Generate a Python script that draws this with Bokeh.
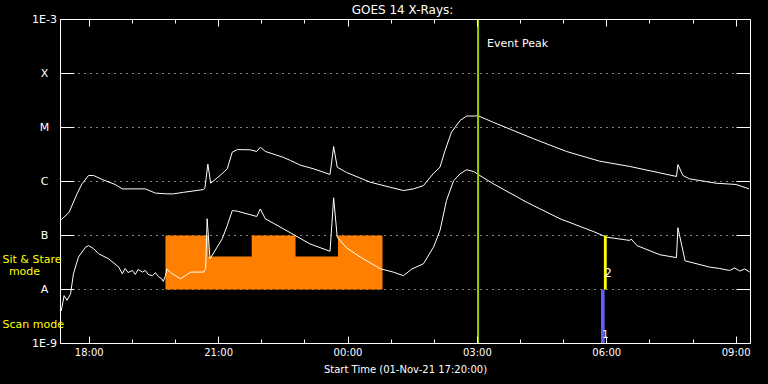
import pandas as pd
from bokeh.plotting import figure
from bokeh.core.properties import value
from bokeh.models import (ColumnDataSource, FixedTicker, DatetimeTickFormatter, DatetimeAxis,
                          LogAxis, Label, LabelSet, Span, Range1d, CustomJSTickFormatter)
from bokeh.embed import file_html
from bokeh.resources import INLINE

# ---------------- data ----------------
title_text = "GOES 14 X-Rays:"
x_title = "Start Time (01-Nov-21 17:20:00)"
t_start, t_end = "17:20", "09:20"

level_flux = [1e-9, 1e-8, 1e-7, 1e-6, 1e-5, 1e-4, 1e-3]
level_text = ["1E-9", "A", "B", "C", "M", "X", "1E-3"]

major_times = ["18:00", "21:00", "00:00", "03:00", "06:00", "09:00"]
minor_times = ["18:00", "19:00", "20:00", "21:00", "22:00", "23:00", "00:00", "01:00",
               "02:00", "03:00", "04:00", "05:00", "06:00", "07:00", "08:00", "09:00"]

# long channel (upper curve)
long_time = ["17:21", "17:32", "17:43", "17:50", "17:59", "18:06", "18:18", "18:36", "18:46",
             "19:18", "19:32", "19:48", "19:57", "20:11", "20:39", "20:41", "20:45", "20:49",
             "20:58", "21:02", "21:12", "21:19", "21:26", "21:44", "21:53", "21:58", "22:05",
             "22:30", "22:40", "22:54", "23:12", "23:35", "23:40", "23:45", "23:58", "00:31",
             "00:59", "01:17", "01:31", "01:45", "01:59", "02:08", "02:15", "02:24", "02:36",
             "02:45", "02:57", "03:01", "03:22", "04:18", "05:04", "05:50", "06:32", "07:37",
             "07:39", "07:46", "07:55", "08:32", "09:00", "09:18"]
long_flux = [1.95e-7, 2.7e-7, 5.9e-7, 9.1e-7, 1.29e-6, 1.29e-6, 1.09e-6, 8.8e-7, 7.3e-7,
             7.3e-7, 6.1e-7, 5.9e-7, 5.9e-7, 6.3e-7, 7.1e-7, 7.7e-7, 2.1e-6, 9.3e-7,
             1.17e-6, 1.29e-6, 1.72e-6, 3.5e-6, 3.9e-6, 3.86e-6, 3.6e-6, 4.3e-6, 3.6e-6,
             2.8e-6, 2.45e-6, 2.0e-6, 1.72e-6, 1.35e-6, 4.45e-6, 1.84e-6, 1.47e-6, 9.7e-7,
             7.8e-7, 6.8e-7, 7.3e-7, 8.4e-7, 1.42e-6, 1.84e-6, 3.75e-6, 8.2e-6, 1.35e-5,
             1.63e-5, 1.63e-5, 1.65e-5, 1.25e-5, 6.2e-6, 3.6e-6, 2.38e-6, 1.9e-6, 1.24e-6,
             2.06e-6, 1.29e-6, 1.12e-6, 9.3e-7, 8.8e-7, 7.3e-7]

# short channel (lower curve)
short_time = ["17:21", "17:25", "17:29", "17:34", "17:38", "17:45", "17:55", "17:59", "18:06",
              "18:13", "18:27", "18:41", "18:46", "18:50", "18:54", "19:00", "19:04", "19:08",
              "19:14", "19:18", "19:22", "19:28", "19:32", "19:36", "19:41", "19:43", "19:46",
              "19:48", "19:53", "20:07", "20:21", "20:39", "20:42", "20:44", "20:48", "20:58",
              "21:05", "21:12", "21:19", "21:26", "21:53", "21:58", "22:05", "22:30", "23:07",
              "23:35", "23:40", "23:45", "23:58", "00:17", "00:45", "01:03", "01:17", "01:29",
              "01:45", "01:59", "02:08", "02:17", "02:27", "02:36", "02:45", "02:55", "03:01",
              "03:22", "04:09", "04:55", "05:41", "06:00", "06:32", "06:34", "06:42", "07:14",
              "07:37", "07:39", "07:49", "08:23", "08:37", "08:51", "08:58", "09:05", "09:12",
              "09:19"]
short_flux = [4.0e-9, 7.7e-9, 6.3e-9, 8.3e-9, 1.95e-8, 4.0e-8, 6.1e-8, 6.5e-8, 5.7e-8,
              4.6e-8, 3.7e-8, 2.6e-8, 1.95e-8, 2.45e-8, 2.06e-8, 2.25e-8, 1.9e-8, 2.35e-8,
              2.1e-8, 2.25e-8, 1.9e-8, 1.8e-8, 2.06e-8, 1.74e-8, 1.58e-8, 1.41e-8, 1.8e-8,
              2.4e-8, 2.06e-8, 1.58e-8, 2.1e-8, 2.1e-8, 2.45e-8, 2.04e-7, 3.7e-8, 6.1e-8,
              8.7e-8, 1.53e-7, 2.9e-7, 2.82e-7, 2.25e-7, 3.1e-7, 2.04e-7, 1.33e-7, 7.0e-8,
              5.1e-8, 5.0e-7, 9.3e-8, 5.9e-8, 4.0e-8, 2.42e-8, 2.1e-8, 1.8e-8, 2.4e-8,
              3.0e-8, 6.1e-8, 1.24e-7, 4.45e-7, 1.04e-6, 1.39e-6, 1.65e-6, 1.53e-6, 1.35e-6,
              9.1e-7, 4.1e-7, 2.04e-7, 1.19e-7, 9.3e-8, 8.1e-8, 8.6e-8, 6.5e-8, 4.4e-8,
              3.9e-8, 1.39e-7, 3.4e-8, 2.6e-8, 2.45e-8, 2.25e-8, 2.5e-8, 2.2e-8, 2.4e-8,
              2.1e-8]

# observing mode (orange steps)
mode_start = ["19:46", "20:46", "21:46", "22:47", "23:46"]
mode_end = ["20:46", "21:46", "22:47", "23:46", "00:48"]
mode_top = [1e-7, 4.1e-8, 1e-7, 4.1e-8, 1e-7]
mode_base = 1e-8

# planned observations
scan_start, scan_end, scan_lo, scan_hi = "05:52", "05:57", 1e-9, 1e-8
sit_start, sit_end, sit_lo, sit_hi = "05:56", "06:00", 1e-8, 1e-7

event_peak_time = "03:01"


def to_ms(hhmm):
    h = int(hhmm.split(":")[0])
    day = "2021-11-01" if h >= 17 else "2021-11-02"
    ts = pd.Timestamp(f"{day} {hhmm}")
    return (ts - pd.Timestamp("1970-01-01")) / pd.Timedelta(milliseconds=1)


# ---------------- layout ----------------
W, H = 768, 384
BOX_L, BOX_R, BOX_T, BOX_B = 60, 750, 19, 343   # plot box inside the canvas (px)
FONT = "DejaVu Sans"
WHITE = "#ffffff"

x0, x1 = to_ms(t_start), to_ms(t_end)
ms_per_px = (x1 - x0) / (BOX_R - BOX_L)
y0, y1 = level_flux[0], level_flux[-1]
px_per_dec = (BOX_B - BOX_T) / 6.0
x_rng = Range1d(x0 - BOX_L * ms_per_px, x1 + (W - BOX_R) * ms_per_px)
y_rng = Range1d(y0 / 10 ** ((H - BOX_B) / px_per_dec), y1 * 10 ** (BOX_T / px_per_dec))

p = figure(width=W, height=H, x_axis_type="datetime", y_axis_type="log",
           x_range=x_rng, y_range=y_rng, output_backend="svg", toolbar_location=None,
           background_fill_color="black", border_fill_color="black", min_border=0)
p.outline_line_color = None
p.title.visible = False
p.xgrid.grid_line_color = None
p.ygrid.grid_line_color = None

xt = FixedTicker(ticks=[to_ms(t) for t in major_times],
                 minor_ticks=[to_ms(t) for t in minor_times])
fmt = DatetimeTickFormatter(hours="%H:%M", hourmin="%H:%M", minutes="%H:%M",
                            minsec="%H:%M", days="%H:%M", months="%H:%M", years="%H:%M")
yt = FixedTicker(ticks=level_flux, minor_ticks=[])
blank = CustomJSTickFormatter(code="return ''")

# bottom axis
xa = p.xaxis[0]
xa.fixed_location = y0
xa.bounds = (x0, x1)
xa.ticker = xt
xa.formatter = fmt
xa.axis_line_color = WHITE
xa.major_tick_line_color = WHITE
xa.minor_tick_line_color = WHITE
xa.major_tick_in = 7
xa.major_tick_out = 0
xa.minor_tick_in = 4
xa.minor_tick_out = 0
xa.major_label_text_color = WHITE
xa.major_label_text_font = FONT
xa.major_label_text_font_size = "10px"
xa.major_label_standoff = 3

# top axis (ticks only)
top = DatetimeAxis(ticker=xt, formatter=blank, fixed_location=y1, bounds=(x0, x1),
                   axis_line_color=WHITE, major_tick_line_color=WHITE,
                   minor_tick_line_color=WHITE, major_tick_in=7, major_tick_out=0,
                   minor_tick_in=4, minor_tick_out=0, major_label_standoff=0)
p.add_layout(top, "above")

# left axis
ya = p.yaxis[0]
ya.fixed_location = x0
ya.bounds = (y0, y1)
ya.ticker = yt
ya.formatter = blank
ya.axis_line_color = WHITE
ya.major_tick_line_color = WHITE
ya.minor_tick_line_color = None
ya.major_tick_in = 14
ya.major_tick_out = 0
ya.major_label_standoff = 0

# right axis
right = LogAxis(ticker=yt, formatter=blank, fixed_location=x1, bounds=(y0, y1),
                axis_line_color=WHITE, major_tick_line_color=WHITE,
                minor_tick_line_color=None, major_tick_in=14, major_tick_out=0,
                major_label_standoff=0)
p.add_layout(right, "right")

# dotted level lines across the plot box
p.segment(x0=[x0] * len(level_flux), x1=[x1] * len(level_flux), y0=level_flux,
          y1=level_flux, line_color=WHITE, line_dash="1 5", line_width=1)

# orange mode steps (one step-area so no seams)
step_x = [to_ms(t) for t in mode_start] + [to_ms(mode_end[-1])]
step_top = mode_top + [mode_top[-1]]
p.varea_step(x=step_x, y1=[mode_base] * len(step_x), y2=step_top, step_mode="after",
             fill_color="#ff8000")

# curves
p.line([to_ms(t) for t in long_time], long_flux, line_color=WHITE, line_width=1)
p.line([to_ms(t) for t in short_time], short_flux, line_color=WHITE, line_width=1)

# planned bars
p.quad(left=[to_ms(scan_start)], right=[to_ms(scan_end)], bottom=[scan_lo], top=[scan_hi],
       fill_color="#6060ff", line_color=None)
p.quad(left=[to_ms(sit_start)], right=[to_ms(sit_end)], bottom=[sit_lo], top=[sit_hi],
       fill_color="#ffff00", line_color=None)

# event peak
p.segment(x0=[to_ms(event_peak_time)], x1=[to_ms(event_peak_time)], y0=[y0], y1=[y1],
          line_color="#9bcd00", line_width=2)
p.add_layout(Label(x=to_ms(event_peak_time), y=y1, x_offset=9, y_offset=-24,
                   text="Event Peak", text_color=WHITE, text_font=FONT,
                   text_font_size="11px", text_align="left", text_baseline="middle"))

# title and x-axis title
x_mid = (x0 + x1) / 2
p.add_layout(Label(x=x_mid, y=y1, x_offset=-3, y_offset=9.5, text=title_text,
                   text_color=WHITE, text_font=FONT, text_font_size="12px",
                   text_align="center", text_baseline="middle"))
p.add_layout(Label(x=x_mid, y=y0, x_offset=0, y_offset=-26, text=x_title,
                   text_color=WHITE, text_font=FONT, text_font_size="10px",
                   text_align="center", text_baseline="middle"))

# level labels
lsrc = ColumnDataSource(dict(y=level_flux, text=level_text))
p.add_layout(LabelSet(x=x0, y="y", text="text", source=lsrc, x_offset=-16,
                      text_color=WHITE, text_font=value(FONT), text_font_size="11px",
                      text_align="center", text_baseline="middle"))

# mode labels
mid_ab = (level_flux[1] * level_flux[2]) ** 0.5
mid_0a = (level_flux[0] * level_flux[1]) ** 0.5
for txt, xo, yv, yo, al in [("Sit & Stare", -58, mid_ab, 3, "left"),
                            ("mode", -36, mid_ab, -9, "center"),
                            ("Scan mode", -58, mid_0a, -8, "left")]:
    p.add_layout(Label(x=x0, y=yv, x_offset=xo, y_offset=yo, text=txt, text_color="#ffff00",
                       text_font=FONT, text_font_size="11px", text_align=al,
                       text_baseline="middle"))

# bar numbers
xb = to_ms("05:58")
p.add_layout(Label(x=xb, y=mid_ab, x_offset=-1, y_offset=-10, text="2", text_color=WHITE,
                   text_font=FONT, text_font_size="12px", text_align="left",
                   text_baseline="middle"))
p.add_layout(Label(x=xb, y=mid_0a, x_offset=0, y_offset=-17, text="1", text_color=WHITE,
                   text_font=FONT, text_font_size="10px", text_align="center",
                   text_baseline="middle"))

tmpl = """{% block postamble %}<style>html, body {margin: 0; padding: 0; background: #000;}</style>{% endblock %}"""
open("out.html", "w").write(file_html(p, INLINE, template=tmpl))
